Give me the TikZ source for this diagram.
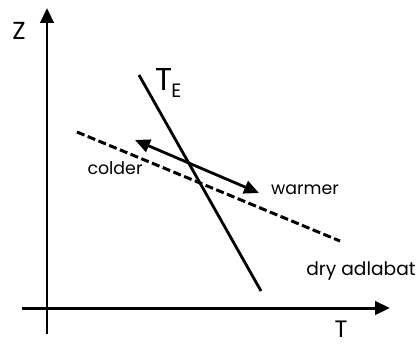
\documentclass[tikz,border=0pt]{standalone}
\usepackage{fontspec}
\setmainfont{Poppins}
\usetikzlibrary{arrows.meta}
\usetikzlibrary{positioning}

\tikzset{
  axis/.style={line width=1.7pt,-{Triangle[length=8.5pt,width=7.6pt]}},
  curve/.style={line width=1.6pt},
  lab/.style={inner sep=0pt,font=\fontsize{9.9}{10}\selectfont},
}

\begin{document}
\begin{tikzpicture}[x=0.02cm,y=-0.02cm]
\useasboundingbox (0,0) rectangle (417,343);

    % axes
    \coordinate (zbot) at (47,334);
    \coordinate (ztop) at (47,8);
    \coordinate (tleft) at (22,308);
    \coordinate (tright) at (390,308);
    \draw[axis] (zbot) -- (ztop);
    \draw[axis] (tleft) -- (tright);

    % environmental profile
    \coordinate (e1) at (139,75);
    \coordinate (e2) at (261,291);
    \draw[curve] (e1) -- (e2);

    % dry adiabat
    \coordinate (d1) at (77,132);
    \coordinate (d2) at (340,241);
    \draw[curve,line width=1.7pt,dash pattern=on 4.6pt off 2pt] (d1) -- (d2);

    % displacement
    \coordinate (p1) at (135,140);
    \coordinate (p2) at (259,193);
    \draw[curve,{Triangle[length=8.5pt,width=7.5pt]}-{Triangle[length=8.5pt,width=7.5pt]}] (p1) -- (p2);

    % labels
    \node[inner sep=0pt,font=\fontsize{14}{14}\selectfont] (zlab) at (19,31) {Z};
    \node[inner sep=0pt,anchor=base,font=\fontsize{13.5}{14}\selectfont] (tlab) at (341,337) {T};
    \node[inner sep=0pt,anchor=base west,font=\fontsize{18}{18}\selectfont] (telab) at (155,90) {T};
    \node[inner sep=0pt,anchor=base west,font=\fontsize{11}{11}\selectfont] (esub) at ([xshift=-1pt,yshift=-4pt]telab.base east) {E};
    \node[lab] (colder) at (115,168) {colder};
    \node[lab] (warmer) at (305,190) {warmer};
    \node[lab,anchor=base east,font=\fontsize{10.6}{11}\selectfont] (dry) at (416,275) {dry adlabat};

\end{tikzpicture}
\end{document}
